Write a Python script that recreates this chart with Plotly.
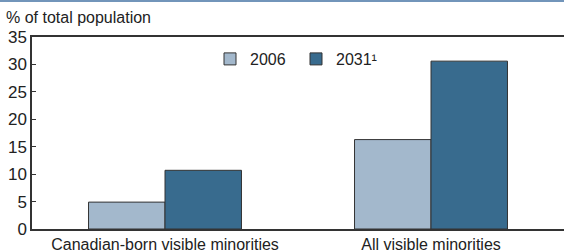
import plotly.graph_objects as go

categories = ["Canadian-born visible minorities", "All visible minorities"]
values_2006 = [4.9, 16.3]
values_2031 = [10.7, 30.6]
series_names = ["2006", "2031¹"]
y_ticks = [0, 5, 10, 15, 20, 25, 30, 35]

W, H = 564, 251
ML, MR, MT, MB = 32, 0, 37, 22
PW = W - ML - MR
PH = H - MT - MB

font = dict(family="Liberation Sans, Arial, sans-serif", size=16, color="#222222")

fig = go.Figure()
fig.add_trace(go.Bar(x=categories, y=values_2006, name=series_names[0],
                     marker=dict(color="#a3b8cc", line=dict(color="#333333", width=1))))
fig.add_trace(go.Bar(x=categories, y=values_2031, name=series_names[1],
                     marker=dict(color="#386b8e", line=dict(color="#333333", width=1))))

fig.update_layout(
    width=W, height=H,
    margin=dict(l=ML, r=MR, t=MT, b=MB, pad=0, autoexpand=False),
    paper_bgcolor="white", plot_bgcolor="white",
    font=font,
    barmode="group", bargap=0.425, bargroupgap=0,
    showlegend=True,
    legend=dict(orientation="h", x=(210 - ML) / PW, xanchor="left",
                y=(MT + PH - 59) / PH, yanchor="middle",
                bgcolor="rgba(0,0,0,0)", font=dict(size=16), itemwidth=30,
                entrywidth=41, traceorder="normal"),
    title=dict(text="% of total population", x=6 / W, xanchor="left",
               y=1 - 17 / H, yanchor="middle", font=dict(size=16, color="#222222"),
               xref="container", yref="container"),
    xaxis=dict(showline=True, linecolor="#333333", linewidth=1.5, mirror=True,
               showgrid=False, ticks="", tickfont=dict(size=16), range=[-0.5, 1.5],
               automargin=False, ticklabelstandoff=0),
    yaxis=dict(showline=True, linecolor="#333333", linewidth=1.5, showgrid=False,
               zeroline=False, range=[0, 35], tickvals=y_ticks, ticks="inside",
               ticklen=4, tickcolor="#333333", tickfont=dict(size=17),
               automargin=False),
    shapes=[dict(type="line", xref="paper", yref="paper",
                 x0=-ML / PW, x1=1.0, y0=1 + (MT - 1) / PH, y1=1 + (MT - 1) / PH,
                 line=dict(color="#7295ba", width=2))],
)

fig.write_html("out.html", config={"displayModeBar": False},
               post_script="document.body.style.margin='0px';document.body.style.overflow='hidden';")
